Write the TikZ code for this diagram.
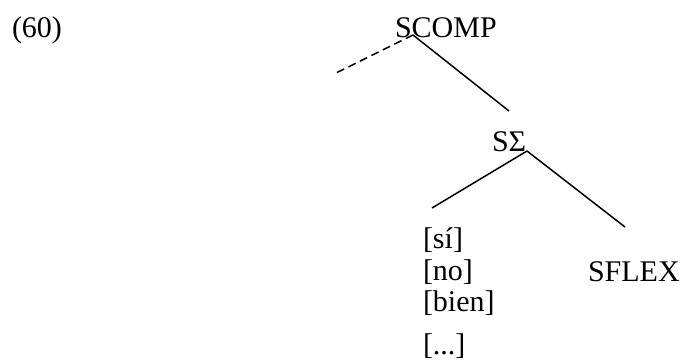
\documentclass[tikz,border=0pt]{standalone}
\usepackage{fontspec}
\setmainfont{Liberation Serif}
\begin{document}
\begin{tikzpicture}[x=0.5pt,y=-0.5pt,
  lbl/.style={inner sep=0pt,outer sep=0pt,anchor=base west,font=\fontsize{15}{16}\selectfont},
  branch/.style={line width=0.75pt},
  dashbranch/.style={line width=0.75pt,dash pattern=on 4pt off 2.4pt}]
\useasboundingbox (0,0) rectangle (684,360);
% example number
\node[lbl] (num) at (12,37) {(60)};
% tree labels
\node[lbl] (scomp) at (395,37) {SCOMP};
\node[lbl] (ssig) at (492,151) {SΣ};
\node[lbl] (si) at (423,248) {[sí]};
\node[lbl] (no) at (423,280) {[no]};
\node[lbl] (bien) at (423,311) {[bien]};
\node[lbl] (dots) at (423,354) {[...]};
\node[lbl] (sflex) at (588,281) {SFLEX};
% branch points
\coordinate (top) at (413,35);
\coordinate (specend) at (336,73);
\coordinate (compend) at (509,111);
\coordinate (mid) at (527,151);
\coordinate (leftend) at (432,208);
\coordinate (rightend) at (625,227);
% branches
\draw[dashbranch] (top) -- (specend);
\draw[branch] (top) -- (compend);
\draw[branch] (mid) -- (leftend);
\draw[branch] (mid) -- (rightend);
\end{tikzpicture}
\end{document}
